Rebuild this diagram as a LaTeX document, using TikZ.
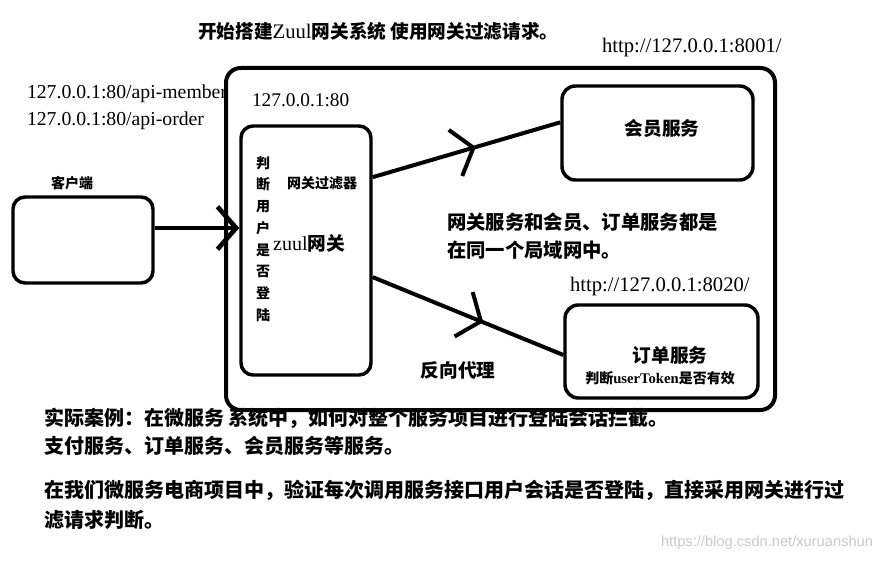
\documentclass[tikz,border=0pt]{standalone}
\usepackage{fontspec}
\setmainfont{Noto Sans CJK SC}
\newfontfamily\latin{Liberation Serif}
\newfontfamily\wmfont{Liberation Sans}
\usepackage{tikz}
\usetikzlibrary{arrows.meta,decorations.markings}
\definecolor{wmgray}{HTML}{C9C9C9}

\begin{document}
\begin{tikzpicture}[x=0.75pt, y=-0.75pt, line width=3pt,
  box/.style={draw, line width=2.6pt, rounded corners=9pt, inner sep=0pt},
  barb/.style={-{Straight Barb[length=14pt,width=32pt]}},
  midbarb/.style={postaction=decorate, decoration={markings,
      mark=at position #1 with {\arrow{Straight Barb[length=14pt,width=36pt]}}}},
  zh/.style={font=\bfseries\fontsize{14}{17}\selectfont, inner sep=0pt},
  small/.style={font=\bfseries\fontsize{10.5}{13}\selectfont, inner sep=0pt},
  url/.style={font=\latin\fontsize{15.5}{18}\selectfont, inner sep=0pt},
  note/.style={font=\bfseries\fontsize{15}{18}\selectfont, inner sep=0pt, anchor=west}]
  \useasboundingbox (0,0) rectangle (880,563);

  % headings and addresses
  \node[zh, anchor=west] (title) at (196,31) {开始搭建{\latin\mdseries\fontsize{15.5}{17}\selectfont Zuul}网关系统 使用网关过滤请求。};
  \node[url, anchor=west] (memberurl) at (600,48) {http://127.0.0.1:8001/};
  \node[url, anchor=west] (orderurl) at (568,287) {http://127.0.0.1:8020/};
  \foreach \n/\y/\t in {apim/94/api-member, apio/121/api-order}
    \node[url, font=\latin\fontsize{14.8}{18}\selectfont, anchor=west] (\n) at (25,\y) {127.0.0.1:80/\t};

  % boxes
  \node[box, line width=3pt, rounded corners=11pt, minimum width=411.75pt,
        minimum height=256.5pt] (lan) at (500.5,239) {};
  \node[url, font=\latin\fontsize{14.5}{17}\selectfont, anchor=west] (gwaddr) at (250,100) {127.0.0.1:80};
  \node[box, minimum width=97.5pt, minimum height=186.75pt] (gw) at (306,250.5) {};
  \node[box, minimum width=105pt, minimum height=64.5pt] (client) at (83,240) {};
  \node[box, rounded corners=10pt, minimum width=143.25pt, minimum height=70.5pt] (member) at (657.5,133) {};
  \node[box, rounded corners=10pt, minimum width=144.75pt, minimum height=69.75pt] (order) at (661.5,351.5) {};

  % labels
  \node[small, align=center, font=\bfseries\fontsize{10.5}{16.3}\selectfont] (check) at (263,239)
    {判\\断\\用\\户\\是\\否\\登\\陆};
  \node[small] (filter) at (322,183) {网关过滤器};
  \node[zh] (zuul) at (309,243) {{\latin\mdseries\fontsize{15}{17}\selectfont zuul}网关};
  \node[small] (clientlbl) at (72,183) {客户端};
  \node[zh] (memberlbl) at (662,128) {会员服务};
  \node[zh, anchor=west, align=left, font=\bfseries\fontsize{14.5}{21}\selectfont] (lannote) at (445,236)
    {网关服务和会员、订单服务都是\\在同一个局域网中。};
  \node[zh] (orderlbl) at (670,355) {订单服务};
  \node[small] (tokenlbl) at (660,378) {判断{\latin\fontsize{11}{13}\selectfont userToken}是否有效};
  \node[zh] (proxy) at (458,370) {反向代理};

  % connectors
  \draw[barb, line width=3.5pt] ([yshift=9pt]client.east) -- ([yshift=9pt]client.east -| gw.west);
  \draw[midbarb=0.55] ([yshift=55pt]gw.east) -- ([yshift=8pt]member.west);
  \draw[midbarb=0.58] ([yshift=-20pt]gw.east) -- ([yshift=-2.6pt]order.west);

  % notes below
  \foreach \n/\y/\t in {case/418/实际案例：在微服务 系统中，如何对整个服务项目进行登陆会话拦截。,
      pay/446/支付服务、订单服务、会员服务等服务。,
      ours/490/在我们微服务电商项目中，验证每次调用服务接口用户会话是否登陆，直接采用网关进行过,
      ours2/520/滤请求判断。}
    \node[note] (\n) at (42,\y) {\t};
  \node[anchor=east, inner sep=0pt, text=wmgray, font=\wmfont\fontsize{11}{13}\selectfont] (wm)
    at (875,543) {https://blog.csdn.net/xuruanshun};
\end{tikzpicture}
\end{document}
